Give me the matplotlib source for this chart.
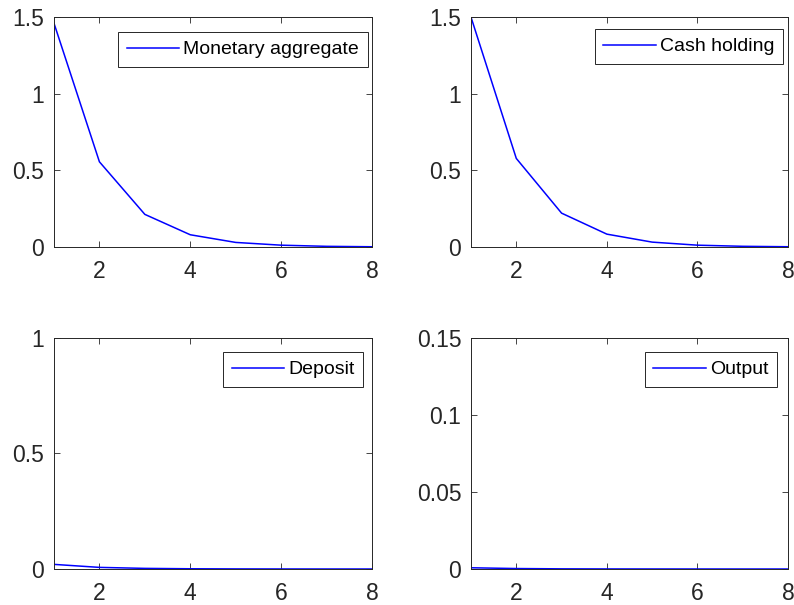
import numpy as np
import matplotlib
matplotlib.use("Agg")
import matplotlib.pyplot as plt
from matplotlib.ticker import FixedLocator, FormatStrFormatter

plt.rcParams['font.family'] = ['Liberation Sans', 'DejaVu Sans']

# respuestas al impulso, periodos 1..8
periodos = [1, 2, 3, 4, 5, 6, 7, 8]
agregado_monetario = [1.46, 0.556, 0.213, 0.080, 0.030, 0.012, 0.0045, 0.0017]
efectivo = [1.50, 0.578, 0.221, 0.084, 0.032, 0.012, 0.0047, 0.0018]
depositos = [0.020, 0.007, 0.0027, 0.001, 0.0004, 0.00015, 0.00006, 0.00002]
producto = [0.0008, 0.0003, 0.0001, 0.00004, 0.00002, 0.00001, 0.0, 0.0]

etiquetas = ["Monetary aggregate", "Cash holding", "Deposit", "Output"]
series = [agregado_monetario, efectivo, depositos, producto]
yticks = [[0, 0.5, 1, 1.5], [0, 0.5, 1, 1.5], [0, 0.5, 1], [0, 0.05, 0.1, 0.15]]
xticks = [2, 4, 6, 8]

gris = "#262626"

# posiciones de los ejes en fraccion de figura
pos = [[0.068, 0.5917, 0.4005, 0.380],
       [0.5932, 0.5917, 0.3993, 0.380],
       [0.068, 0.0595, 0.4005, 0.382],
       [0.5932, 0.0595, 0.3993, 0.382]]
anclas = [(0.987, 0.935), (0.984, 0.948), (0.972, 0.939), (0.965, 0.939)]

fig = plt.figure(figsize=(7.94, 6.05), dpi=100)

for i in range(4):
    ax = fig.add_axes(pos[i])
    ax.plot(periodos, series[i], color="#0000ff", linewidth=1.1, label=etiquetas[i])
    ax.set_xlim(1, 8)
    ax.set_ylim(yticks[i][0], yticks[i][-1])
    ax.xaxis.set_major_locator(FixedLocator(xticks))
    ax.yaxis.set_major_locator(FixedLocator(yticks[i]))
    ax.yaxis.set_major_formatter(FormatStrFormatter("%g"))
    ax.tick_params(direction="in", top=True, right=True, length=4, width=0.6,
                   color=gris, labelcolor=gris, labelsize=16.5)
    ax.tick_params(axis="x", pad=9)
    ax.tick_params(axis="y", pad=7)
    for s in ax.spines.values():
        s.set_color(gris)
        s.set_linewidth(0.7)
    leg = ax.legend(loc="upper right", bbox_to_anchor=anclas[i], borderaxespad=0,
                    fontsize=14, handlelength=2.7, handletextpad=0.2,
                    borderpad=0.45, fancybox=False, framealpha=1, edgecolor=gris)
    leg.get_frame().set_linewidth(0.7)

plt.savefig("out.png", dpi=100)
